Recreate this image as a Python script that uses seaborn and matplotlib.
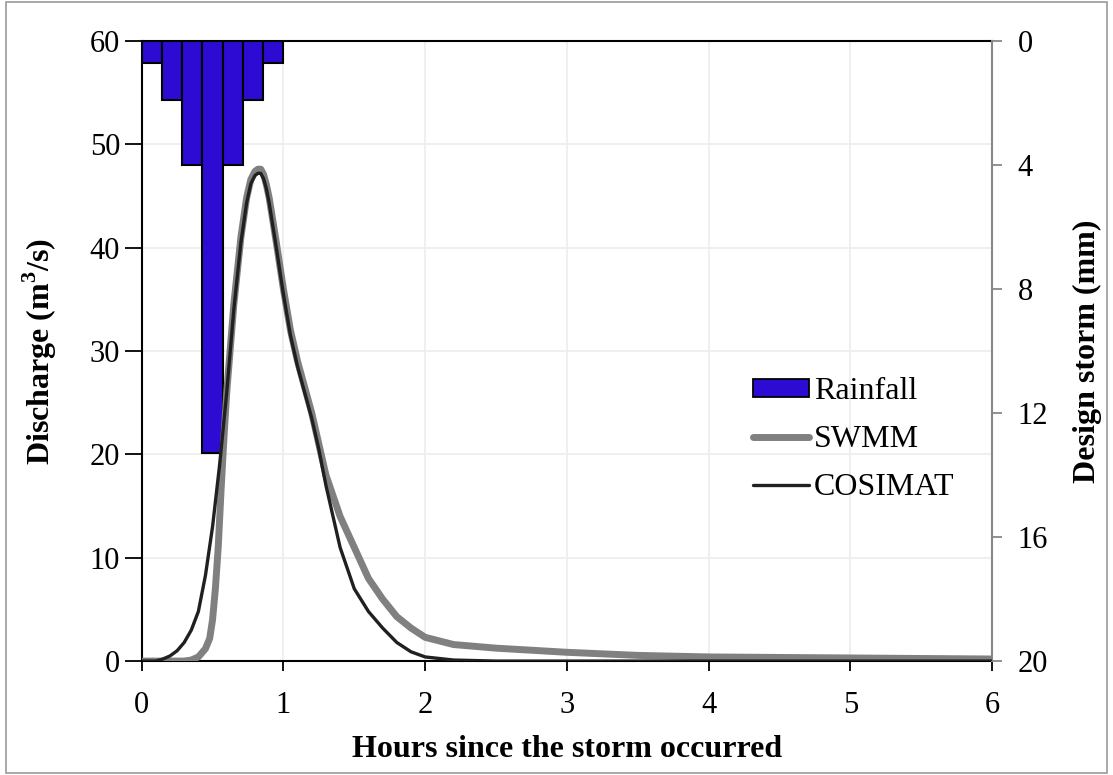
import numpy as np
import pandas as pd
import matplotlib
matplotlib.use("Agg")
import matplotlib.pyplot as plt
from matplotlib.patches import Patch, Rectangle
from matplotlib.lines import Line2D
import seaborn as sns

# ---- data ----
rain_time = [1/14, 3/14, 5/14, 7/14, 9/14, 11/14, 13/14]   # bar centres (h)
rain_mm = [0.7, 1.9, 4.0, 13.3, 4.0, 1.9, 0.7]

swmm_t = [0, 0.30, 0.35, 0.40, 0.45, 0.48, 0.50, 0.52, 0.54, 0.56, 0.58, 0.60, 0.65,
          0.70, 0.74, 0.77, 0.80, 0.82, 0.84, 0.86, 0.88, 0.90, 0.95, 1.00, 1.05,
          1.10, 1.20, 1.25, 1.30, 1.40, 1.50, 1.60, 1.70, 1.80, 1.90, 2.00, 2.20,
          2.50, 3.00, 3.50, 4.00, 5.00, 6.00]
swmm_q = [0, 0, 0.1, 0.4, 1.2, 2.2, 4.0, 7.0, 11, 16.5, 21.5, 26, 34.5,
          41, 44.8, 46.6, 47.4, 47.6, 47.6, 47.1, 46.1, 44.8, 40.5, 36, 32,
          29, 24, 21, 18, 14, 11, 8, 6, 4.3, 3.2, 2.3, 1.6,
          1.25, 0.85, 0.55, 0.4, 0.3, 0.2]

cos_t = [0, 0.10, 0.15, 0.20, 0.25, 0.30, 0.35, 0.40, 0.45, 0.50, 0.55, 0.60, 0.65,
         0.70, 0.74, 0.77, 0.80, 0.82, 0.84, 0.86, 0.88, 0.90, 0.95, 1.00, 1.05,
         1.10, 1.20, 1.25, 1.30, 1.40, 1.50, 1.60, 1.70, 1.80, 1.90, 2.00, 2.20,
         2.50, 3.00, 6.00]
cos_q = [0, 0, 0.2, 0.5, 1.0, 1.8, 3.0, 4.8, 8.3, 13, 19, 26, 34,
         40.5, 44.3, 46.2, 47.0, 47.2, 47.2, 46.7, 45.7, 44.3, 40, 35.5, 31.5,
         28.5, 23.5, 20.5, 17, 11, 7, 4.8, 3.2, 1.8, 0.9, 0.4, 0.1,
         0, 0, 0]

x_ticks = [0, 1, 2, 3, 4, 5, 6]
yl_ticks = [0, 10, 20, 30, 40, 50, 60]
yr_ticks = [0, 4, 8, 12, 16, 20]

rain_df = pd.DataFrame({"t": rain_time, "mm": rain_mm})
swmm_df = pd.DataFrame({"t": swmm_t, "q": swmm_q})
cos_df = pd.DataFrame({"t": cos_t, "q": cos_q})

sns.set_style("white")
plt.rcParams["font.family"] = ["Liberation Serif", "DejaVu Serif"]
plt.rcParams["mathtext.fontset"] = "custom"
plt.rcParams["mathtext.rm"] = "Liberation Serif"
plt.rcParams["mathtext.bf"] = "Liberation Serif:bold"
plt.rcParams["text.color"] = "black"
plt.rcParams["axes.labelcolor"] = "black"
plt.rcParams["xtick.color"] = "black"
plt.rcParams["ytick.color"] = "black"
FS = 22
LFS = 23

fig = plt.figure(figsize=(11.13, 7.75), dpi=100)
pos = [0.1273, 0.147, 0.8913 - 0.1273, 0.947 - 0.147]
ax = fig.add_axes(pos)
ax2 = ax.twinx()
ax3 = fig.add_axes(pos, sharex=ax, sharey=ax)
ax.set_zorder(1)
ax2.set_zorder(2)
ax3.set_zorder(3)
ax2.patch.set_visible(False)
ax3.patch.set_visible(False)

# grid on primary axis
ax.set_xlim(0, 6)
ax.set_ylim(0, 60)
for xv in x_ticks[1:-1]:
    ax.axvline(xv, color="#eeeeee", lw=1.3, zorder=0)
for yv in yl_ticks[1:-1]:
    ax.axhline(yv, color="#eeeeee", lw=1.3, zorder=0)

# rainfall bars on right axis
sns.barplot(data=rain_df, x="t", y="mm", native_scale=True, width=1.0,
            color="#2d0bd3", edgecolor="black", linewidth=1.5, saturation=1,
            ax=ax2, errorbar=None)
ax2.set_xlim(0, 6)
ax2.set_ylim(20, 0)

# hydrographs
sns.lineplot(data=swmm_df, x="t", y="q", color="#808080", lw=5.0, ax=ax3,
             solid_capstyle="round", sort=False)
sns.lineplot(data=cos_df, x="t", y="q", color="#202020", lw=2.4, ax=ax3, sort=False)
ax3.set_axis_off()
ax3.set_xlim(0, 6)
ax3.set_ylim(0, 60)

# axes styling
ax.set_xticks(x_ticks)
ax.set_yticks(yl_ticks)
ax.tick_params(axis="both", direction="out", width=1.3, colors="black", labelsize=FS)
ax.tick_params(axis="x", bottom=True, length=7.5, pad=14)
ax.tick_params(axis="y", left=True, length=12, pad=3.5)
for s in ["left", "bottom", "top"]:
    ax.spines[s].set_color("black")
    ax.spines[s].set_linewidth(1.5)
ax.spines["right"].set_visible(False)
ax.set_xlabel("Hours since the storm occurred", fontsize=LFS, fontweight="bold",
              labelpad=11, color="black")
ax.set_ylabel(r"Discharge (m$^{\mathbf{3}}$/s)", fontsize=LFS, fontweight="bold",
              labelpad=22, color="black")

ax2.set_yticks(yr_ticks)
ax2.tick_params(axis="y", direction="out", length=7.5, width=1.3, colors="#888888",
                labelcolor="black", labelsize=FS, pad=11, right=True)
ax2.tick_params(axis="x", bottom=False, top=False, labelbottom=False)
ax2.set_xlabel("")
for s in ["left", "bottom", "top"]:
    ax2.spines[s].set_visible(False)
ax2.spines["right"].set_color("#888888")
ax2.spines["right"].set_linewidth(1.5)
ax2.set_ylabel("Design storm (mm)", fontsize=LFS, fontweight="bold", labelpad=18,
               color="black")

handles = [Patch(facecolor="#2d0bd3", edgecolor="black", linewidth=1.3),
           Line2D([], [], color="#808080", lw=5.0, solid_capstyle="round"),
           Line2D([], [], color="#202020", lw=2.4)]
leg = fig.legend(handles, ["Rainfall", "SWMM", "COSIMAT"], loc="upper left",
                 bbox_to_anchor=(0.665, 0.530), frameon=False, fontsize=23,
                 handlelength=1.75, handleheight=0.5, handletextpad=0.15,
                 labelspacing=0.6, borderaxespad=0)
for t in leg.get_texts():
    t.set_color("black")

fig.patches.append(Rectangle((0.005, 0.003), 0.99, 0.994, transform=fig.transFigure,
                             fill=False, edgecolor="#999999", lw=1.2))

fig.savefig("out.png", dpi=100)
